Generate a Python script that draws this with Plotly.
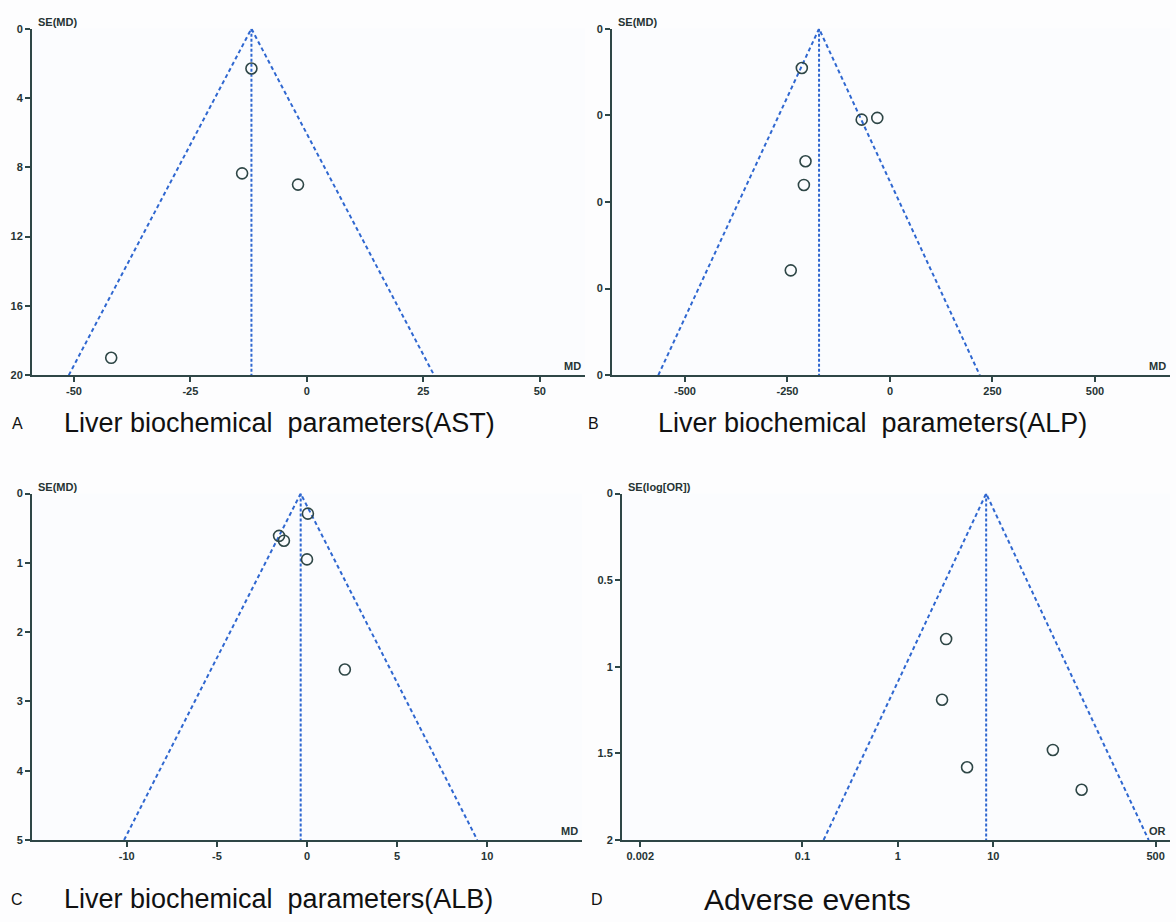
import plotly.graph_objects as go
import numpy as np

W, H = 1176, 922

# ---------------- data ----------------
# Panel A: AST (MD vs SE(MD))
a_md = [-11.9, -13.9, -1.9, -42.0]
a_se = [2.3, 8.35, 9.0, 19.0]
a_center = -11.9
a_semax = 20
a_yticks = [0, 4, 8, 12, 16, 20]
a_xticks = [-50, -25, 0, 25, 50]

# Panel B: ALP
b_md = [-215, -69, -31, -206, -210, -242]
b_se = [22.7, 52.5, 51.5, 76.5, 90.2, 139.5]
b_center = -173
b_semax = 200
b_yticks = [0, 50, 100, 150, 200]
b_yticktext = ["0", "0", "0", "0", "0"]
b_xticks = [-500, -250, 0, 250, 500]

# Panel C: ALB
c_md = [-1.55, -1.28, 0.05, 0.0, 2.1]
c_se = [0.61, 0.68, 0.29, 0.95, 2.54]
c_center = -0.35
c_semax = 5
c_yticks = [0, 1, 2, 3, 4, 5]
c_xticks = [-10, -5, 0, 5, 10]

# Panel D: Adverse events (OR vs SE(log[OR]))
d_or = [3.2, 2.9, 42.0, 5.3, 84.0]
d_se = [0.84, 1.19, 1.48, 1.58, 1.71]
d_center = 8.4
d_semax = 2
d_yticks = [0, 0.5, 1, 1.5, 2]
d_ytext = ["0", "0.5", "1", "1.5", "2"]
d_xticks = [0.002, 0.1, 1, 10, 500]
d_xtext = ["0.002", "0.1", "1", "10", "500"]

titles = ["Liver biochemical\u00a0\u00a0parameters(AST)",
          "Liver biochemical\u00a0\u00a0parameters(ALP)",
          "Liver biochemical\u00a0\u00a0parameters(ALB)",
          "Adverse events"]
letters = ["A", "B", "C", "D"]

# ---------------- style ----------------
AXC = "#2e4646"
BLUE = "#2f67d0"
TICKFONT = dict(family="Liberation Sans, Arial", size=11, color="#263434", weight="bold")

fig = go.Figure()


def px_x(p):
    return p / W


def px_y(p):
    return 1 - p / H


panels = [
    dict(xa="x", ya="y", xd=(32, 585), yd=(23, 374)),
    dict(xa="x2", ya="y2", xd=(612, 1170), yd=(23, 374)),
    dict(xa="x3", ya="y3", xd=(32, 582), yd=(494, 845)),
    dict(xa="x4", ya="y4", xd=(622, 1170), yd=(494, 845)),
]


def funnel(k, center, semax, log=False):
    p = panels[k]
    if log:
        lo = center * np.exp(-1.96 * semax)
        hi = center * np.exp(1.96 * semax)
    else:
        lo = center - 1.96 * semax
        hi = center + 1.96 * semax
    fig.add_trace(go.Scatter(x=[lo, center, hi], y=[semax, 0, semax], mode="lines",
                             line=dict(color=BLUE, width=2, dash="4px,3px"),
                             xaxis=p["xa"], yaxis=p["ya"], hoverinfo="skip", showlegend=False))
    fig.add_trace(go.Scatter(x=[center, center], y=[0, semax], mode="lines",
                             line=dict(color=BLUE, width=2, dash="3px,2px"),
                             xaxis=p["xa"], yaxis=p["ya"], hoverinfo="skip", showlegend=False))


def points(k, xs, ys):
    p = panels[k]
    fig.add_trace(go.Scatter(x=xs, y=ys, mode="markers",
                             marker=dict(symbol="circle-open", size=11, color=AXC,
                                         line=dict(width=1.6, color=AXC)),
                             xaxis=p["xa"], yaxis=p["ya"], showlegend=False))


funnel(0, a_center, a_semax)
points(0, a_md, a_se)
funnel(1, b_center, b_semax)
points(1, b_md, b_se)
funnel(2, c_center, c_semax)
points(2, c_md, c_se)
funnel(3, d_center, d_semax, log=True)
points(3, d_or, d_se)

common_ax = dict(showline=True, linecolor=AXC, linewidth=2, ticks="outside",
                 tickcolor=AXC, ticklen=5, tickwidth=2, showgrid=False,
                 zeroline=False, tickfont=TICKFONT)

xranges = [[-59.0, 59.7], [-678, 683], [-15.26, 15.26], [-2.89, 2.85]]
yranges = [[a_semax, 0], [b_semax, 0], [c_semax, 0], [d_semax, 0]]
xtv = [a_xticks, b_xticks, c_xticks, d_xticks]
xtt = [[str(v) for v in a_xticks], [str(v) for v in b_xticks],
       [str(v) for v in c_xticks], d_xtext]
ytv = [a_yticks, b_yticks, c_yticks, d_yticks]
ytt = [[str(v) for v in a_yticks], b_yticktext, [str(v) for v in c_yticks], d_ytext]

layout = dict(width=W, height=H, margin=dict(l=0, r=0, t=0, b=0),
              paper_bgcolor="#fdfdfe", plot_bgcolor="#fbfcfe", showlegend=False)

for i, p in enumerate(panels):
    sfx = "" if i == 0 else str(i + 1)
    xd = [px_x(p["xd"][0]), px_x(p["xd"][1])]
    yd = [px_y(p["yd"][1]), px_y(p["yd"][0])]
    xa = dict(common_ax, domain=xd, range=xranges[i], anchor="y" + sfx,
              tickvals=xtv[i], ticktext=xtt[i])
    if i == 3:
        xa["type"] = "log"
    ya = dict(common_ax, domain=yd, range=yranges[i], anchor="x" + sfx,
              tickvals=ytv[i], ticktext=ytt[i])
    layout["xaxis" + sfx] = xa
    layout["yaxis" + sfx] = ya

fig.update_layout(**layout)

ylabels = ["SE(MD)", "SE(MD)", "SE(MD)", "SE(log[OR])"]
xlabels = ["MD", "MD", "MD", "OR"]
LBLFONT = dict(family="Liberation Sans, Arial", size=11, color="#263434", weight="bold")
ann = []
for i, p in enumerate(panels):
    ann.append(dict(text=ylabels[i], x=px_x(p["xd"][0] + 4), y=px_y(p["yd"][0] - 7),
                    xref="paper", yref="paper", xanchor="left", yanchor="middle",
                    showarrow=False, font=LBLFONT))
    ann.append(dict(text=xlabels[i], x=px_x(p["xd"][1] - 2), y=px_y(p["yd"][1] - 9),
                    xref="paper", yref="paper", xanchor="right", yanchor="middle",
                    showarrow=False, font=LBLFONT))

letter_pos = [(17, 423), (594, 423), (17, 905), (597, 905)]
title_pos = [(62, 423), (656, 423), (62, 905), (702, 905)]
title_size = [27, 27, 27, 30]
for i in range(4):
    ann.append(dict(text=letters[i], x=px_x(letter_pos[i][0]), y=px_y(letter_pos[i][1]),
                    xref="paper", yref="paper", xanchor="center", yanchor="middle",
                    showarrow=False, font=dict(family="Liberation Sans, Arial", size=16, color="#111")))
    ann.append(dict(text=titles[i], x=px_x(title_pos[i][0]), y=px_y(title_pos[i][1]),
                    xref="paper", yref="paper", xanchor="left", yanchor="middle",
                    showarrow=False,
                    font=dict(family="Liberation Sans, Arial", size=title_size[i], color="#111")))

fig.update_layout(annotations=ann)
fig.write_html("out.html", config={"displayModeBar": False},
               post_script="document.body.style.margin='0';document.body.style.overflow='hidden';")
